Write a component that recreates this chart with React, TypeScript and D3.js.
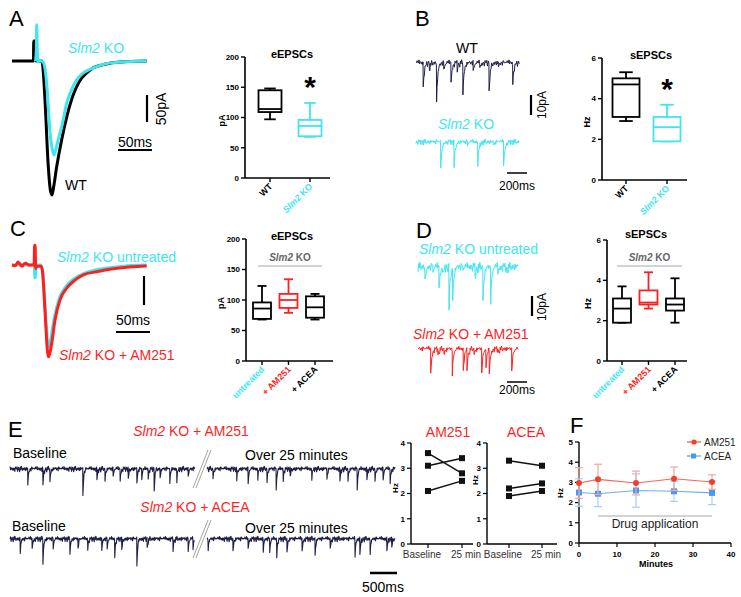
import React from 'react';
import * as d3 from 'd3';

const FONT = '"Liberation Sans", Arial, Helvetica, sans-serif';
const CYAN = '#3ee6f0';
const RED = '#ff1f1f';
const NAVY = '#1f1f45';
const F_RED = '#f0412f';
const F_BLUE = '#4a98f0';
const GRAY = '#a8a8a8';

// ---------- Panel A / C evoked traces: [ms, pA] ----------
const A_WT: [number, number][] = [[0,0],[31.5,0],[32,37],[35,37],[35.5,0],[44,0],[46,-20],[48.5,-72],[53.4,-196],[56.5,-240],[58.8,-248],[61,-235],[65.7,-196],[73,-146],[80.4,-104],[88,-70],[100,-36],[110,-22],[119,-13],[130,-8],[144,-4],[165,-1.5],[198,0]];
const A_KO: [number, number][] = [[34.5,0],[35.8,20],[36.3,67],[37,30],[37.8,-2],[40,1],[44,0],[47,-5],[51,-41],[56,-133],[59.5,-165],[61.8,-174],[64,-166],[68,-145],[73,-122],[80.4,-78],[88,-52],[95,-35],[105,-22],[119,-13],[135,-6],[160,-2],[198,0]];
const C_UNTR: [number, number][] = [[0,0],[32,0],[32.8,5],[33.6,-22],[34.6,-22],[35.5,0],[42,0],[45,-10],[49,-80],[52.5,-135],[54.5,-141],[57,-128],[62,-92],[70,-56],[80,-36],[92,-23],[105,-15],[125,-8],[150,-4],[175,-1],[198,0]];
const C_AM251: [number, number][] = [[0,0],[5,-1],[8.8,5],[12,1],[14.7,-2],[18,2],[20.6,3],[24,0],[32.5,0],[33.2,34],[34,34],[34.8,-6],[36,-2],[40,-2],[42.6,-2],[44.6,-9],[48.5,-78],[52,-147],[53.4,-158],[55,-155],[58.4,-135],[63.2,-95],[70.6,-60],[80.4,-40],[92.6,-26],[104.9,-17],[124.6,-11.5],[154,-5.7],[198,-1.7]];

// ---------- spontaneous event lists: [time, amplitude pA] ----------
const B_WT_EVENTS: [number, number][] = [[72,12.5],[134,3],[206,18.5],[278,4],[350,10],[412,3],[469,15],[572,5],[639,3],[731,13.5],[824,2.5],[968,10]];
const B_KO_EVENTS: [number, number][] = [[247,14],[381,12.5],[515,2],[618,11],[772,2],[876,12.5]];
const D_UNTR_EVENTS: [number, number][] = [[70,7.5],[150,3],[210,11],[250,4],[310,21],[347,15],[450,2],[570,6],[650,16],[727,17],[800,3],[880,3]];
const D_AM251_EVENTS: [number, number][] = [[127,12.5],[200,3],[260,3],[343,12.5],[453,11],[490,9],[560,3],[637,12.5],[680,9],[713,11.5],[800,2],[937,11.5]];
const E_AM251_EVENTS: [number, number][] = [[0.33,13],[0.61,13],[0.74,10],[1.35,22],[1.61,9],[1.76,9],[1.91,7],[2.04,9],[2.19,9],[2.35,12],[2.44,9],[2.56,7],[2.67,17],[2.78,7],[2.96,12],[3.09,9],[3.30,7],[3.76,7],[4.20,9],[4.41,13],[4.59,7],[4.76,10],[4.93,17],[5.06,9],[5.19,7],[5.59,7],[5.87,9],[6.11,10],[6.26,9],[6.43,17],[6.61,9],[6.76,9],[6.91,10],[7.04,11]];
const E_ACEA_EVENTS: [number, number][] = [[0.19,11],[0.41,8],[0.61,19],[0.80,8],[1.11,11],[1.26,8],[1.44,8],[1.70,10],[1.80,8],[1.94,14],[2.07,10],[2.35,23],[2.54,8],[3.02,8],[3.30,10],[3.39,8],[3.67,8],[4.13,10],[4.41,8],[4.69,10],[4.81,11],[4.94,14],[5.13,11],[5.41,10],[5.65,14],[5.93,8],[6.39,14],[6.48,14],[6.67,11],[6.98,11],[7.07,8]];
const NOISE = [0.2,-0.6,0.9,-0.3,0.5,1.1,-0.8,0.1,0.7,-0.4,1.3,-0.9,0.3,0.6,-1.1,0.8,-0.2,0.4,1.0,-0.7,0.0,0.9,-0.5,-1.0,0.6,0.2,1.2,-0.3,-0.8,0.5,0.1,-0.6,1.0,0.3,-0.4,0.8,-1.2,0.4,0.7,-0.1,0.5,-0.9,1.1,0.2,-0.5,0.6,0.9,-0.7,0.3,-0.2];

// ---------- box plot summaries [min, q1, median, q3, max] ----------
const A_CATS = ['WT', 'Slm2 KO'];
const A_EPSC = [[97,109,114,145,148],[68,69,86,96,124]];
const B_CATS = ['WT', 'Slm2 KO'];
const B_FREQ = [[2.9,3.1,4.7,5.0,5.3],[1.9,1.9,2.6,3.1,3.7]];
const C_CATS = ['untreated', '+ AM251', '+ ACEA'];
const C_EPSC = [[68,69,86,96,123],[79,87,100,110,134],[68,71,88,106,110]];
const D_FREQ = [[1.9,1.9,2.6,3.1,3.7],[2.6,2.8,2.9,3.5,4.4],[1.9,2.5,2.8,3.1,4.1]];

// ---------- paired plots ----------
const PAIR_CATS = ['Baseline', '25 min'];
const AM251_PAIRS = [[3.6,2.8],[3.1,3.4],[2.1,2.5]];
const ACEA_PAIRS = [[3.3,3.1],[2.2,2.4],[1.9,2.1]];

// ---------- panel F time course ----------
const F_MINUTES = [0,5,15,25,35];
const F_AM251 = [2.97,3.15,2.97,3.18,3.02];
const F_AM251_ERR = [0.76,0.75,0.59,0.58,0.36];
const F_ACEA = [2.5,2.44,2.6,2.56,2.48];
const F_ACEA_ERR = [0.68,0.64,0.83,0.5,0.58];
const DRUG_WINDOW = [5, 35];

function buildEventTrace(events: [number, number][], tEnd: number, step: number, tau: number, noiseAmp: number, offset: number) {
  const n = Math.round(tEnd / step);
  const times = d3.range(0, n + 1).map(i => i * step)
    .concat(events.flatMap(e => [e[0] - step * 0.3, e[0]]))
    .sort(d3.ascending);
  return times.map(t => {
    const k = Math.round(t / step) + offset;
    let v = (NOISE[k % NOISE.length] * 0.7 + NOISE[(k * 7 + 3) % NOISE.length] * 0.5) * noiseAmp;
    for (const [te, a] of events) if (t >= te - 1e-9) v -= a * Math.exp(-(t - te) / tau);
    return [t, v] as [number, number];
  });
}

function Rich({ text }: { text: string }) {
  const parts = text.split(/(Slm2)/).filter(p => p);
  return <>{parts.map((p, i) => p === 'Slm2' ? <tspan key={i} fontStyle="italic">{p}</tspan> : <tspan key={i}>{p}</tspan>)}</>;
}

function TracePath({ data, xs, ys, color, width, curve }: any) {
  const line = d3.line<[number, number]>().x(d => xs(d[0])).y(d => ys(d[1])).curve(curve || d3.curveLinear);
  return <path d={line(data) || ''} fill="none" stroke={color} strokeWidth={width} strokeLinejoin="round" />;
}

type BoxProps = {
  axisX: number; xEnd: number; y0: number; y1: number; max: number; step: number;
  cats: string[]; c0: number; c1: number; stats: number[][]; boxColors: string[]; labelColors: string[];
  boxW: number; title: string; titleX: number; titleY: number; yLabel: string; yLabelX: number;
  group?: { x0: number; x1: number; y: number };
  star?: number;
};

function BoxPlot(p: BoxProps) {
  const y = d3.scaleLinear().domain([0, p.max]).range([p.y0, p.y1]);
  const x = d3.scalePoint<string>().domain(p.cats).range([p.c0, p.c1]);
  const ticks = d3.range(0, p.max + 1e-9, p.step);
  const cap = p.boxW * 0.5;
  return (
    <g>
      <text x={p.titleX} y={p.titleY} textAnchor="middle" fontWeight="bold" fontSize={11}>{p.title}</text>
      <line x1={p.axisX} x2={p.axisX} y1={y(0)} y2={y(p.max)} stroke="#000" strokeWidth={1.6} />
      <line x1={p.axisX} x2={p.xEnd} y1={y(0)} y2={y(0)} stroke="#000" strokeWidth={1.6} />
      {ticks.map(t => (
        <g key={t}>
          <line x1={p.axisX - 4} x2={p.axisX} y1={y(t)} y2={y(t)} stroke="#000" strokeWidth={1.4} />
          <text x={p.axisX - 6} y={y(t)} dy="0.35em" textAnchor="end" fontWeight="bold" fontSize={8}>{t}</text>
        </g>
      ))}
      <text transform={`translate(${p.yLabelX},${(p.y0 + p.y1) / 2 + 3}) rotate(-90)`} textAnchor="middle" fontWeight="bold" fontSize={9}>{p.yLabel}</text>
      {p.group && (
        <g>
          <line x1={p.group.x0} x2={p.group.x1} y1={p.group.y} y2={p.group.y} stroke={GRAY} strokeWidth={1} />
          <text x={(p.group.x0 + p.group.x1) / 2} y={p.group.y - 5} textAnchor="middle" fontSize={10} fill="#666" fontWeight="bold"><Rich text="Slm2 KO" /></text>
        </g>
      )}
      {p.cats.map((c, i) => {
        const cx = x(c) as number;
        const [mn, q1, md, q3, mx] = p.stats[i];
        const col = p.boxColors[i];
        return (
          <g key={c}>
            <line x1={cx} x2={cx} y1={y(0)} y2={y(0) + 4} stroke="#000" strokeWidth={1.4} />
            <line x1={cx} x2={cx} y1={y(mx)} y2={y(q3)} stroke={col} strokeWidth={1.8} />
            <line x1={cx} x2={cx} y1={y(q1)} y2={y(mn)} stroke={col} strokeWidth={1.8} />
            <line x1={cx - cap / 2} x2={cx + cap / 2} y1={y(mx)} y2={y(mx)} stroke={col} strokeWidth={1.8} />
            <line x1={cx - cap / 2} x2={cx + cap / 2} y1={y(mn)} y2={y(mn)} stroke={col} strokeWidth={1.8} />
            <rect x={cx - p.boxW / 2} y={y(q3)} width={p.boxW} height={y(q1) - y(q3)} fill="#fff" stroke={col} strokeWidth={1.8} />
            <line x1={cx - p.boxW / 2} x2={cx + p.boxW / 2} y1={y(md)} y2={y(md)} stroke={col} strokeWidth={1.8} />
            <text transform={`translate(${cx + 3},${y(0) + 9}) rotate(-45)`} textAnchor="end" fontWeight="bold" fontSize={9} fill={p.labelColors[i]}><Rich text={c} /></text>
            {p.star === i && <text x={cx} y={y(mx) - 6} textAnchor="middle" fontWeight="bold" fontSize={30}>*</text>}
          </g>
        );
      })}
    </g>
  );
}

function PairedPlot({ axisX, xEnd, y0, y1, c0, c1, pairs, title, titleX, yLabelX, yLabelY }: any) {
  const y = d3.scaleLinear().domain([0, 4]).range([y0, y1]);
  const x = d3.scalePoint<string>().domain(PAIR_CATS).range([c0, c1]);
  const ticks = d3.range(0, 5);
  return (
    <g>
      <text x={titleX} y={437} textAnchor="middle" fontSize={14} fill={RED}>{title}</text>
      <line x1={axisX} x2={axisX} y1={y(0)} y2={y(4)} stroke="#000" strokeWidth={1.4} />
      <line x1={axisX} x2={xEnd} y1={y(0)} y2={y(0)} stroke="#000" strokeWidth={1.4} />
      {ticks.map(t => (
        <g key={t}>
          <line x1={axisX - 4} x2={axisX} y1={y(t)} y2={y(t)} stroke="#000" strokeWidth={1.2} />
          <text x={axisX - 6} y={y(t)} dy="0.35em" textAnchor="end" fontSize={8} fontWeight="bold">{t}</text>
        </g>
      ))}
      {PAIR_CATS.map(c => (
        <g key={c}>
          <line x1={x(c)} x2={x(c)} y1={y(0)} y2={y(0) + 4} stroke="#000" strokeWidth={1.2} />
          <text x={(x(c) as number) + (c === 'Baseline' ? -6 : 4)} y={y(0) + 14} textAnchor="middle" fontSize={10} fill="#333">{c}</text>
        </g>
      ))}
      <text transform={`translate(${yLabelX},${yLabelY}) rotate(-90)`} textAnchor="middle" fontWeight="bold" fontSize={8}>Hz</text>
      {pairs.map((pr: number[], i: number) => (
        <g key={i}>
          <line x1={x(PAIR_CATS[0])} x2={x(PAIR_CATS[1])} y1={y(pr[0])} y2={y(pr[1])} stroke="#111" strokeWidth={1.5} />
          {pr.map((v, j) => <rect key={j} x={(x(PAIR_CATS[j]) as number) - 3} y={y(v) - 3} width={6} height={6} fill="#111" />)}
        </g>
      ))}
    </g>
  );
}

function PanelF() {
  const x = d3.scaleLinear().domain([0, 40]).range([579, 731]);
  const y = d3.scaleLinear().domain([0, 5]).range([543, 442]);
  const line = d3.line<number>().x((_, i) => x(F_MINUTES[i])).y(d => y(d));
  const series = [
    { name: 'ACEA', vals: F_ACEA, err: F_ACEA_ERR, color: F_BLUE, errColor: '#a9cdf5', square: true },
    { name: 'AM251', vals: F_AM251, err: F_AM251_ERR, color: F_RED, errColor: '#f5a79c', square: false },
  ];
  return (
    <g>
      <text x={570} y={433} fontSize={22}>F</text>
      <line x1={x(0)} x2={x(0)} y1={y(0)} y2={y(5)} stroke="#000" strokeWidth={1.4} />
      <line x1={x(0)} x2={x(40)} y1={y(0)} y2={y(0)} stroke="#000" strokeWidth={1.4} />
      {d3.range(0, 6).map(t => (
        <g key={t}>
          <line x1={x(0) - 4} x2={x(0)} y1={y(t)} y2={y(t)} stroke="#000" strokeWidth={1.2} />
          <text x={x(0) - 6} y={y(t)} dy="0.35em" textAnchor="end" fontSize={8} fontWeight="bold">{t}</text>
        </g>
      ))}
      {d3.range(0, 41, 10).map(t => (
        <g key={t}>
          <line x1={x(t)} x2={x(t)} y1={y(0)} y2={y(0) + 4} stroke="#000" strokeWidth={1.2} />
          <text x={x(t)} y={y(0) + 14} textAnchor="middle" fontSize={8} fontWeight="bold">{t}</text>
        </g>
      ))}
      <text x={656} y={567} textAnchor="middle" fontSize={9} fontWeight="bold">Minutes</text>
      <text transform={`translate(${563},${493}) rotate(-90)`} textAnchor="middle" fontSize={8} fontWeight="bold">Hz</text>
      <line x1={x(DRUG_WINDOW[0])} x2={x(DRUG_WINDOW[1])} y1={516} y2={516} stroke={GRAY} strokeWidth={1} />
      <text x={(x(DRUG_WINDOW[0]) + x(DRUG_WINDOW[1])) / 2} y={528} textAnchor="middle" fontSize={12} fill="#222">Drug application</text>
      {series.map(s => (
        <g key={s.name}>
          {s.vals.map((v, i) => (
            <g key={i}>
              <line x1={x(F_MINUTES[i])} x2={x(F_MINUTES[i])} y1={y(v + s.err[i])} y2={y(v - s.err[i])} stroke={s.errColor} strokeWidth={1.2} />
              <line x1={x(F_MINUTES[i]) - 4} x2={x(F_MINUTES[i]) + 4} y1={y(v + s.err[i])} y2={y(v + s.err[i])} stroke={s.errColor} strokeWidth={1.2} />
              <line x1={x(F_MINUTES[i]) - 4} x2={x(F_MINUTES[i]) + 4} y1={y(v - s.err[i])} y2={y(v - s.err[i])} stroke={s.errColor} strokeWidth={1.2} />
            </g>
          ))}
          <path d={line(s.vals) || ''} fill="none" stroke={s.color} strokeWidth={1.1} opacity={0.8} />
          {s.vals.map((v, i) => s.square
            ? <rect key={i} x={x(F_MINUTES[i]) - 3} y={y(v) - 3} width={6} height={6} fill={s.color} />
            : <circle key={i} cx={x(F_MINUTES[i])} cy={y(v)} r={3} fill={s.color} />)}
        </g>
      ))}
      {[{ name: 'AM251', color: F_RED, yy: 442, square: false }, { name: 'ACEA', color: F_BLUE, yy: 456, square: true }].map(l => (
        <g key={l.name}>
          <line x1={687} x2={701} y1={l.yy} y2={l.yy} stroke={l.color} strokeWidth={1.1} />
          {l.square ? <rect x={691} y={l.yy - 2.5} width={5} height={5} fill={l.color} /> : <circle cx={694} cy={l.yy} r={2.6} fill={l.color} />}
          <text x={704} y={l.yy + 3.5} fontSize={10} fill="#222">{l.name}</text>
        </g>
      ))}
    </g>
  );
}

export default function App() {
  // Panel A
  const axA = d3.scaleLinear().domain([0, 200]).range([12, 148]);
  const ayA = d3.scaleLinear().domain([0, -250]).range([61, 196]);
  // Panel C
  const ayC = d3.scaleLinear().domain([0, -160]).range([265, 358]);
  // Panel B / D
  const bx = d3.scaleLinear().domain([0, 1030]).range([416, 519]);
  const byWT = d3.scaleLinear().domain([0, -10]).range([63, 83]);
  const byKO = d3.scaleLinear().domain([0, -10]).range([142, 162]);
  const dx = d3.scaleLinear().domain([0, 1000]).range([418, 518]);
  const dyU = d3.scaleLinear().domain([0, -10]).range([267, 287]);
  const dyA = d3.scaleLinear().domain([0, -10]).range([349, 369]);
  // Panel E
  const ex = d3.scaleLinear().domain([0, 7.13]).range([10, 395]);
  const ey1 = d3.scaleLinear().domain([0, -10]).range([469, 481.5]);
  const ey2 = d3.scaleLinear().domain([0, -10]).range([539, 551.5]);
  const BREAK = [3.42, 3.65];

  const bWT = buildEventTrace(B_WT_EVENTS, 1030, 6, 12, 1.4, 0);
  const bKO = buildEventTrace(B_KO_EVENTS, 1030, 6, 12, 1.2, 11);
  const dU = buildEventTrace(D_UNTR_EVENTS, 1000, 6, 12, 2.0, 23);
  const dA = buildEventTrace(D_AM251_EVENTS, 1000, 6, 12, 1.3, 37);
  const e1 = buildEventTrace(E_AM251_EVENTS, 7.13, 0.01, 0.014, 1.8, 5);
  const e2 = buildEventTrace(E_ACEA_EVENTS, 7.13, 0.01, 0.014, 1.8, 17);
  const split = (tr: [number, number][]) => [tr.filter(d => d[0] <= BREAK[0]), tr.filter(d => d[0] >= BREAK[1])];

  const t14 = { fontSize: 14 };
  return (
    <svg width={741} height={597} style={{ position: 'absolute', left: 0, top: 0, background: '#fff' }} fontFamily={FONT}>
      <rect width={741} height={597} fill="#fff" />
      {/* ---------- A ---------- */}
      <text x={9} y={26} fontSize={22}>A</text>
      <TracePath data={A_WT} xs={axA} ys={ayA} color="#000" width={3} curve={d3.curveMonotoneX} />
      <TracePath data={A_KO} xs={axA} ys={ayA} color={CYAN} width={3} curve={d3.curveMonotoneX} />
      <text x={68} y={53} {...t14} fill={CYAN}><Rich text="Slm2 KO" /></text>
      <text x={65} y={190} {...t14}>WT</text>
      <line x1={147} x2={147} y1={95} y2={95 + ayA(-50) - ayA(0)} stroke="#000" strokeWidth={2.2} />
      <text transform="translate(166,109) rotate(-90)" textAnchor="middle" {...t14}>50pA</text>
      <line x1={118} x2={118 + axA(50) - axA(0)} y1={150} y2={150} stroke="#000" strokeWidth={2.2} />
      <text x={135} y={147} textAnchor="middle" {...t14}>50ms</text>
      <BoxPlot axisX={245} xEnd={330} y0={178} y1={57} max={200} step={50} cats={A_CATS} c0={270} c1={310}
        stats={A_EPSC} boxColors={['#000', CYAN]} labelColors={['#000', CYAN]} boxW={23}
        title="eEPSCs" titleX={292} titleY={58} yLabel="pA" yLabelX={225} star={1} />

      {/* ---------- B ---------- */}
      <text x={415} y={26} fontSize={22}>B</text>
      <text x={467} y={53} textAnchor="middle" {...t14}>WT</text>
      <TracePath data={bWT} xs={bx} ys={byWT} color={NAVY} width={1} />
      <line x1={531} x2={531} y1={95} y2={95 + byWT(-10) - byWT(0)} stroke="#000" strokeWidth={2.2} />
      <text transform="translate(546,105) rotate(-90)" textAnchor="middle" fontSize={12}>10pA</text>
      <text x={438} y={129} {...t14} fill={CYAN}><Rich text="Slm2 KO" /></text>
      <TracePath data={bKO} xs={bx} ys={byKO} color={CYAN} width={1} />
      <line x1={507} x2={507 + bx(200) - bx(0)} y1={173} y2={173} stroke="#000" strokeWidth={1.5} />
      <text x={517} y={190} textAnchor="middle" fontSize={12}>200ms</text>
      <BoxPlot axisX={602} xEnd={687} y0={180} y1={58} max={6} step={2} cats={B_CATS} c0={626} c1={667}
        stats={B_FREQ} boxColors={['#000', CYAN]} labelColors={['#000', CYAN]} boxW={27}
        title="sEPSCs" titleX={651} titleY={59} yLabel="Hz" yLabelX={590} star={1} />

      {/* ---------- C ---------- */}
      <text x={10} y={236} fontSize={22}>C</text>
      <TracePath data={C_UNTR} xs={axA} ys={ayC} color={CYAN} width={3} curve={d3.curveMonotoneX} />
      <TracePath data={C_AM251} xs={axA} ys={ayC} color={RED} width={3} curve={d3.curveMonotoneX} />
      <text x={57} y={262} {...t14} fill={CYAN}><Rich text="Slm2 KO untreated" /></text>
      <text x={59} y={360} {...t14} fill={RED}><Rich text="Slm2 KO + AM251" /></text>
      <line x1={144} x2={144} y1={276} y2={276 + ayC(-50) - ayC(0)} stroke="#000" strokeWidth={2.2} />
      <line x1={116} x2={116 + axA(50) - axA(0)} y1={332} y2={332} stroke="#000" strokeWidth={2.2} />
      <text x={133} y={325} textAnchor="middle" {...t14}>50ms</text>
      <BoxPlot axisX={246} xEnd={333} y0={361} y1={239} max={200} step={50} cats={C_CATS} c0={262} c1={315}
        stats={C_EPSC} boxColors={['#000', RED, '#000']} labelColors={[CYAN, RED, '#000']} boxW={18}
        title="eEPSCs" titleX={292} titleY={240} yLabel="pA" yLabelX={224}
        group={{ x0: 258, x1: 322, y: 266 }} />

      {/* ---------- D ---------- */}
      <text x={416} y={238} fontSize={22}>D</text>
      <text x={419} y={254} {...t14} fill={CYAN}><Rich text="Slm2 KO untreated" /></text>
      <TracePath data={dU} xs={dx} ys={dyU} color={CYAN} width={1} />
      <line x1={532} x2={532} y1={296} y2={296 + dyU(-10) - dyU(0)} stroke="#000" strokeWidth={2.2} />
      <text transform="translate(546,307) rotate(-90)" textAnchor="middle" fontSize={12}>10pA</text>
      <text x={413} y={339} {...t14} fill={RED}><Rich text="Slm2 KO + AM251" /></text>
      <TracePath data={dA} xs={dx} ys={dyA} color={RED} width={1} />
      <line x1={507} x2={507 + dx(200) - dx(0)} y1={382} y2={382} stroke="#000" strokeWidth={1.5} />
      <text x={517} y={394} textAnchor="middle" fontSize={12}>200ms</text>
      <BoxPlot axisX={607} xEnd={687} y0={361} y1={240} max={6} step={2} cats={C_CATS} c0={622} c1={675}
        stats={D_FREQ} boxColors={['#000', RED, '#000']} labelColors={[CYAN, RED, '#000']} boxW={18}
        title="sEPSCs" titleX={646} titleY={238} yLabel="Hz" yLabelX={591}
        group={{ x0: 617, x1: 682, y: 266 }} />

      {/* ---------- E ---------- */}
      <text x={8} y={437} fontSize={22}>E</text>
      <text x={191} y={436} textAnchor="middle" {...t14} fill={RED}><Rich text="Slm2 KO + AM251" /></text>
      <text x={13} y={458} {...t14}>Baseline</text>
      <text x={245} y={460} {...t14}>Over 25 minutes</text>
      {split(e1).map((seg, i) => <TracePath key={i} data={seg} xs={ex} ys={ey1} color={NAVY} width={1.1} />)}
      <text x={195} y={512} textAnchor="middle" {...t14} fill={RED}><Rich text="Slm2 KO + ACEA" /></text>
      <text x={12} y={531} {...t14}>Baseline</text>
      <text x={245} y={533} {...t14}>Over 25 minutes</text>
      {split(e2).map((seg, i) => <TracePath key={i} data={seg} xs={ex} ys={ey2} color={NAVY} width={1.1} />)}
      {[[450, 488], [520, 558]].map(([ya, yb], i) => (
        <g key={i} stroke="#999" strokeWidth={0.9}>
          <line x1={193} y1={yb} x2={208} y2={ya} />
          <line x1={196} y1={yb} x2={211} y2={ya} />
        </g>
      ))}
      <line x1={370} x2={370 + ex(0.5) - ex(0)} y1={573} y2={573} stroke="#000" strokeWidth={2.5} />
      <text x={383} y={592} textAnchor="middle" {...t14}>500ms</text>
      <PairedPlot axisX={411} xEnd={473} y0={544} y1={443} c0={428} c1={462} pairs={AM251_PAIRS}
        title="AM251" titleX={448} yLabelX={398} yLabelY={488} />
      <PairedPlot axisX={487} xEnd={557} y0={544} y1={443} c0={509} c1={542} pairs={ACEA_PAIRS}
        title="ACEA" titleX={526} yLabelX={478} yLabelY={480} />

      {/* ---------- F ---------- */}
      <PanelF />
    </svg>
  );
}
